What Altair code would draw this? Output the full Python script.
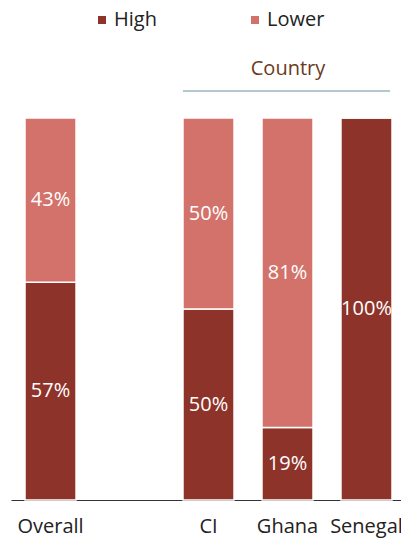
import altair as alt
import pandas as pd

categories = ["Overall", "CI", "Ghana", "Senegal"]
domain = ["Overall", " ", "CI", "Ghana", "Senegal"]
high = [57, 50, 19, 100]
lower = [43, 50, 81, 0]
levels = ["High", "Lower"]
colors = ["#8E3329", "#D3726A"]

rows = []
for c, h, l in zip(categories, high, lower):
    rows.append({"cat": c, "level": "High", "value": h, "ord": 0})
    rows.append({"cat": c, "level": "Lower", "value": l, "ord": 1})
df = pd.DataFrame(rows)

FONT = "Open Sans"
FS = 20
W, H = 390, 382

xscale = alt.Scale(domain=domain, paddingInner=0.354, paddingOuter=0.1456, align=0.609)
yscale = alt.Scale(domain=[0, 100])

base = alt.Chart(df)

bars = base.mark_bar(stroke="white", strokeWidth=1.5).encode(
    x=alt.X("cat:N", scale=xscale, sort=domain,
            axis=alt.Axis(title=None, labelAngle=0, ticks=False, domainColor="#333333",
                          domainWidth=1, labelFontSize=FS, labelColor="#222222",
                          labelFont=FONT, labelPadding=16)),
    y=alt.Y("value:Q", stack="zero", scale=yscale, axis=None),
    color=alt.Color("level:N", scale=alt.Scale(domain=levels, range=colors),
                    legend=alt.Legend(title=None, orient="none", direction="horizontal",
                                      legendX=81, legendY=-108, symbolType="square",
                                      symbolSize=64, symbolStrokeWidth=0,
                                      labelFontSize=FS, labelFont=FONT, labelColor="#222222",
                                      labelOffset=2, columnPadding=88)),
    order=alt.Order("ord:Q"),
)

labels = base.transform_stack(
    stack="value", groupby=["cat"], as_=["y0", "y1"], sort=[alt.SortField("ord")]
).transform_filter("datum.value > 0").transform_calculate(
    mid="(datum.y0 + datum.y1) / 2", txt="datum.value + '%'"
).mark_text(color="white", fontSize=FS, font=FONT).encode(
    x=alt.X("cat:N", scale=xscale, sort=domain),
    y=alt.Y("mid:Q", scale=yscale),
    text="txt:N",
)

country = alt.Chart(pd.DataFrame({"t": ["Country"]})).mark_text(
    fontSize=FS, font=FONT, color="#6A3A1C"
).encode(x=alt.value(277), y=alt.value(-49), text="t:N")

rule = alt.Chart(pd.DataFrame({"a": [1]})).mark_rule(color="#6A949C", strokeWidth=1.2).encode(
    x=alt.value(172), x2=alt.value(379), y=alt.value(-27)
)

chart = alt.layer(bars, labels, country, rule).properties(
    width=W, height=H,
    autosize=alt.AutoSizeParams(type="none"),
    padding={"left": 3, "top": 110, "right": 0, "bottom": 40},
).configure_view(stroke=None)

chart.save("out.html", embed_options={"renderer": "svg", "actions": False})
